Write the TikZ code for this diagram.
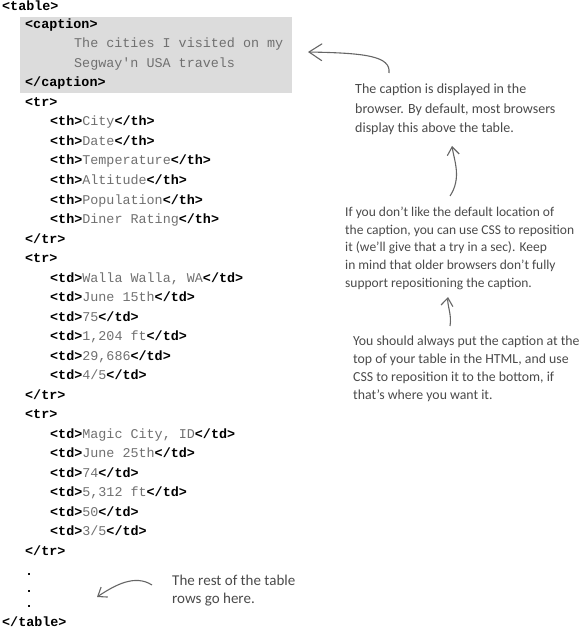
\documentclass[tikz,border=0pt]{standalone}
\usepackage{fontspec}
\setmonofont{Liberation Mono}
\newfontfamily\handfont{Carlito}
\usetikzlibrary{arrows.meta}
\definecolor{capgray}{HTML}{DCDCDC}
\definecolor{txtgray}{HTML}{707070}
\definecolor{notegray}{HTML}{4A4A4A}
\definecolor{arrgray}{HTML}{666666}
\newcommand{\tg}[1]{{\bfseries #1}}
\newcommand{\ct}[1]{{\color{txtgray}#1}}
\begin{document}
\begin{tikzpicture}[x=1bp,y=-1bp,
 code/.style={anchor=west, inner sep=0pt, font=\ttfamily\fontsize{13.4bp}{16bp}\selectfont, text height=9bp, text depth=3bp},
 note/.style={anchor=north west, inner sep=0pt, align=left, text=notegray},
 arr/.style={draw=arrgray, line width=1.1bp, -{Straight Barb[length=8bp,width=12bp]}},
 bigarr/.style={draw=arrgray, line width=1.1bp, -{Straight Barb[length=13bp,width=17bp]}}]
\useasboundingbox (0,0) rectangle (579,637);
\node[fill=capgray, minimum width=272bp, minimum height=76bp, inner sep=0pt, anchor=north west] (capbox) at (20,17) {};
% code lines
\node[code] (l0) at (2,8) {\tg{<table>}};
\node[code] (l1) at (25,26) {\tg{<caption>}};
\node[code] (l2) at (74,45) {\ct{The cities I visited on my}};
\node[code] (l3) at (74,64.5) {\ct{Segway'n USA travels}};
\node[code] (l4) at (25,84) {\tg{</caption>}};
\node[code] (l5) at (25,103.5) {\tg{<tr>}};
\node[code] (l6) at (50,123) {\tg{<th>}\ct{City}\tg{</th>}};
\node[code] (l7) at (50,142.5) {\tg{<th>}\ct{Date}\tg{</th>}};
\node[code] (l8) at (50,162) {\tg{<th>}\ct{Temperature}\tg{</th>}};
\node[code] (l9) at (50,181.5) {\tg{<th>}\ct{Altitude}\tg{</th>}};
\node[code] (l10) at (50,201) {\tg{<th>}\ct{Population}\tg{</th>}};
\node[code] (l11) at (50,220.5) {\tg{<th>}\ct{Diner Rating}\tg{</th>}};
\node[code] (l12) at (25,240) {\tg{</tr>}};
\node[code] (l13) at (25,259.5) {\tg{<tr>}};
\node[code] (l14) at (50,279) {\tg{<td>}\ct{Walla Walla, WA}\tg{</td>}};
\node[code] (l15) at (50,298.5) {\tg{<td>}\ct{June 15th}\tg{</td>}};
\node[code] (l16) at (50,318) {\tg{<td>}\ct{75}\tg{</td>}};
\node[code] (l17) at (50,337.5) {\tg{<td>}\ct{1,204 ft}\tg{</td>}};
\node[code] (l18) at (50,357) {\tg{<td>}\ct{29,686}\tg{</td>}};
\node[code] (l19) at (50,376.5) {\tg{<td>}\ct{4/5}\tg{</td>}};
\node[code] (l20) at (25,396) {\tg{</tr>}};
\node[code] (l21) at (25,415.5) {\tg{<tr>}};
\node[code] (l22) at (50,435) {\tg{<td>}\ct{Magic City, ID}\tg{</td>}};
\node[code] (l23) at (50,454.5) {\tg{<td>}\ct{June 25th}\tg{</td>}};
\node[code] (l24) at (50,474) {\tg{<td>}\ct{74}\tg{</td>}};
\node[code] (l25) at (50,493.5) {\tg{<td>}\ct{5,312 ft}\tg{</td>}};
\node[code] (l26) at (50,513) {\tg{<td>}\ct{50}\tg{</td>}};
\node[code] (l27) at (50,532.5) {\tg{<td>}\ct{3/5}\tg{</td>}};
\node[code] (l28) at (25,552) {\tg{</tr>}};
\node[code] (l29) at (25,572) {\tg{.}};
\node[code] (l30) at (25,589) {\tg{.}};
\node[code] (l31) at (25,604) {\tg{.}};
\node[code] (l32) at (2,623) {\tg{</table>}};
% notes
\node[note, font=\handfont\fontsize{14bp}{19.5bp}\selectfont] (n1) at (355,84) {The caption is displayed in the\\browser. By default, most browsers\\display this above the table.};
\node[note, font=\handfont\fontsize{13.5bp}{17.8bp}\selectfont] (n2) at (345,206.5) {If you don’t like the default location of\\the caption, you can use CSS to reposition\\it (we’ll give that a try in a sec). Keep\\in mind that older browsers don’t fully\\support repositioning the caption.};
\node[note, font=\handfont\fontsize{13.8bp}{18bp}\selectfont] (n3) at (353,336) {You should always put the caption at the\\top of your table in the HTML, and use\\CSS to reposition it to the bottom, if\\that’s where you want it.};
\node[note, font=\handfont\fontsize{15bp}{18bp}\selectfont] (n4) at (172,575) {The rest of the table\\rows go here.};
% arrows
\coordinate (a1s) at (389,73);
\coordinate (a1e) at (308,52);
\draw[bigarr] (a1s) .. controls (391,56) and (365,53) .. (a1e);
\coordinate (a2s) at (450,196);
\coordinate (a2e) at (452,146);
\draw[arr] (a2s) .. controls (462,178) and (454,160) .. (a2e);
\coordinate (a3s) at (450,326);
\coordinate (a3e) at (448,297);
\draw[arr] (a3s) .. controls (452,315) and (447,305) .. (a3e);
\coordinate (a4s) at (152,585);
\coordinate (a4e) at (97,597);
\draw[arr] (a4s) .. controls (135,574) and (115,585) .. (a4e);
\end{tikzpicture}
\end{document}
